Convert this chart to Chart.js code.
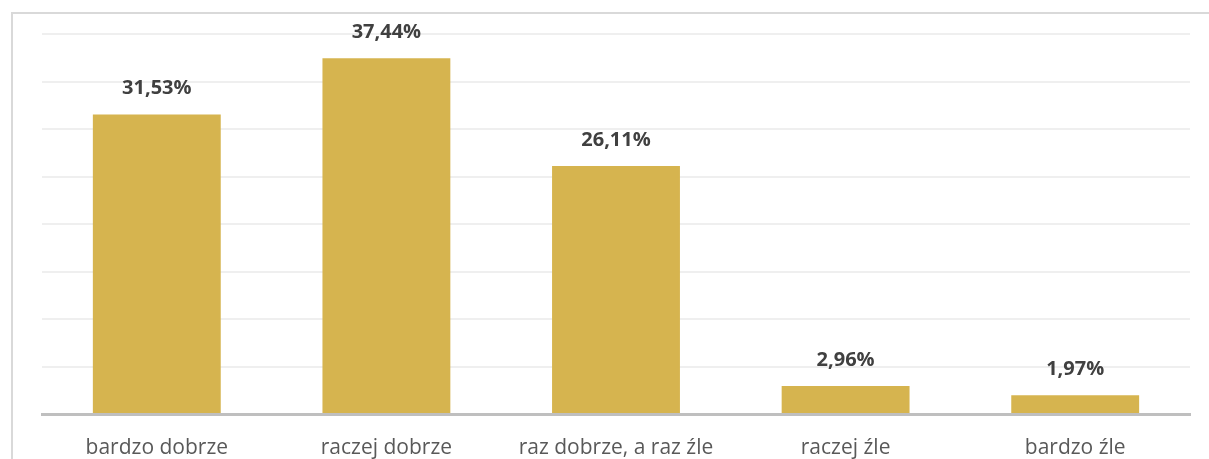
<!DOCTYPE html>
<html>
<head>
<meta charset="utf-8">
<script src="https://cdn.jsdelivr.net/npm/chart.js@4/dist/chart.umd.min.js"></script>
<style>
  html, body { margin: 0; padding: 0; background: #fff; overflow: hidden; }
  #wrap { position: relative; width: 1209px; height: 459px; }
  #frame { position: absolute; left: 11px; top: 12px; right: 0; bottom: -5px; border-left: 2px solid #d9d9d9; border-top: 2px solid #d9d9d9; pointer-events: none; }
  canvas { position: absolute; left: 0; top: 0; }
</style>
</head>
<body>
<div id="wrap">
  <canvas id="chart" width="1209" height="459"></canvas>
  <div id="frame"></div>
</div>
<script>
const categories = ['bardzo dobrze', 'raczej dobrze', 'raz dobrze, a raz źle', 'raczej źle', 'bardzo źle'];
const percentages = [31.53, 37.44, 26.11, 2.96, 1.97];

function formatPercent(value) {
  return value.toFixed(2).replace('.', ',') + '%';
}

// draws the bold value above each bar
const valueLabels = {
  id: 'valueLabels',
  afterDatasetsDraw(chart) {
    const { ctx } = chart;
    const meta = chart.getDatasetMeta(0);
    ctx.save();
    ctx.font = 'bold 20px "Open Sans"';
    ctx.fillStyle = '#404040';
    ctx.textAlign = 'center';
    ctx.textBaseline = 'middle';
    meta.data.forEach((bar, i) => {
      ctx.fillText(formatPercent(percentages[i]), bar.x, bar.y - 26);
    });
    ctx.restore();
  },
};

const ctxBars = document.getElementById('chart').getContext('2d');
new Chart(ctxBars, {
  type: 'bar',
  data: {
    labels: categories,
    datasets: [{
      data: percentages,
      backgroundColor: '#d6b44f',
      borderWidth: 0,
      categoryPercentage: 1,
      barPercentage: 0.557,
    }],
  },
  options: {
    responsive: false,
    animation: false,
    layout: { padding: { left: 42, right: 19, top: 34, bottom: 0 } },
    plugins: { legend: { display: false }, tooltip: { enabled: false } },
    scales: {
      x: {
        grid: { display: false },
        border: { color: '#bfbfbf', width: 3 },
        ticks: { color: '#595959', font: { family: 'Open Sans', size: 21 }, padding: 13, maxRotation: 0 },
        afterFit(scale) { scale.height = 45; },
      },
      y: {
        min: 0,
        max: 40,
        ticks: { display: false, stepSize: 5 },
        grid: { color: '#efefef', lineWidth: 2, drawTicks: false },
        border: { display: false },
      },
    },
  },
  plugins: [valueLabels],
});
</script>
</body>
</html>
